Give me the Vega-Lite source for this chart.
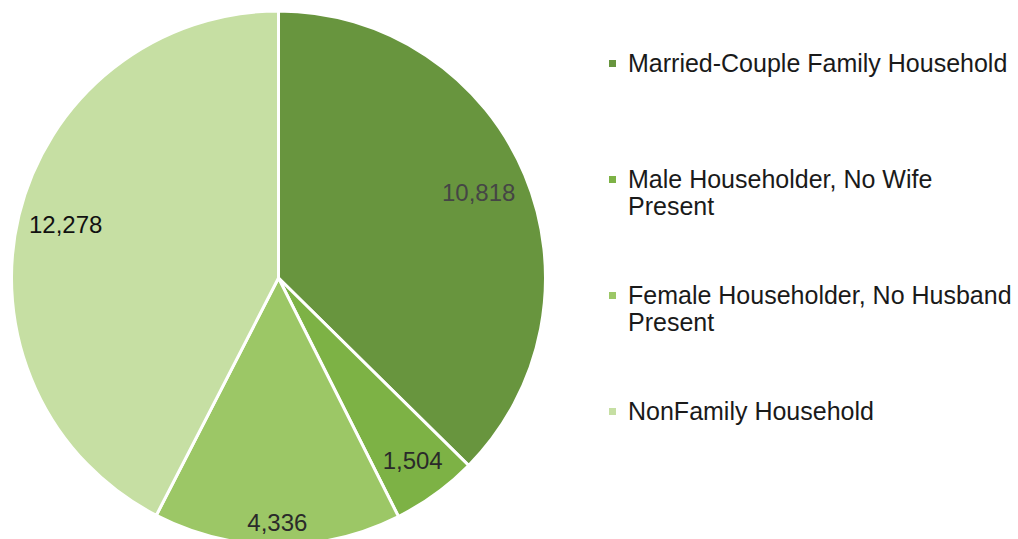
{
  "$schema": "https://vega.github.io/schema/vega-lite/v6.json",
  "width": 533,
  "height": 522,
  "autosize": {"type": "none"},
  "padding": {"left": 12, "top": 17, "right": 473, "bottom": 0},
  "background": "white",
  "config": {"view": {"stroke": null}, "font": "Liberation Sans"},
  "data": {
    "values": [
      {"category": "Married-Couple Family Household", "households": 10818, "order": 1},
      {"category": "Male Householder, No Wife Present", "households": 1504, "order": 2},
      {"category": "Female Householder, No Husband Present", "households": 4336, "order": 3},
      {"category": "NonFamily Household", "households": 12278, "order": 4}
    ]
  },
  "encoding": {
    "theta": {"field": "households", "type": "quantitative", "stack": true},
    "order": {"field": "order", "type": "quantitative"}
  },
  "layer": [
    {
      "mark": {"type": "arc", "outerRadius": 267, "stroke": "white", "strokeWidth": 3},
      "encoding": {
        "color": {
          "field": "category",
          "type": "nominal",
          "sort": null,
          "scale": {
            "domain": ["Married-Couple Family Household", "Male Householder, No Wife Present", "Female Householder, No Husband Present", "NonFamily Household"],
            "range": ["#68953e", "#7db245", "#9cc766", "#c6dfa3"]
          },
          "legend": {
            "title": null,
            "orient": "none",
            "legendX": 588,
            "legendY": 34,
            "symbolType": "square",
            "symbolSize": 49,
            "symbolStrokeWidth": 0,
            "labelFont": "Liberation Sans",
            "labelFontSize": 25,
            "labelColor": "#1a1a1a",
            "labelLimit": 500,
            "labelOffset": 3,
            "labelLineHeight": 27,
            "gridAlign": "all",
            "rowPadding": 63,
            "labelExpr": "datum.label == 'Male Householder, No Wife Present' ? ['Male Householder, No Wife', 'Present'] : datum.label == 'Female Householder, No Husband Present' ? ['Female Householder, No Husband', 'Present'] : datum.label"
          }
        }
      }
    },
    {
      "mark": {"type": "text", "radius": 217, "fontSize": 24, "color": "#454545"},
      "encoding": {"text": {"condition": {"test": "datum.order == 1", "field": "households", "type": "quantitative", "format": ","}, "value": ""}}
    },
    {
      "mark": {"type": "text", "radius": 228, "fontSize": 24, "color": "#2a2a2a"},
      "encoding": {"text": {"condition": {"test": "datum.order == 2", "field": "households", "type": "quantitative", "format": ","}, "value": ""}}
    },
    {
      "mark": {"type": "text", "radius": 246, "fontSize": 24, "color": "#2a2a2a"},
      "encoding": {"text": {"condition": {"test": "datum.order == 3", "field": "households", "type": "quantitative", "format": ","}, "value": ""}}
    },
    {
      "mark": {"type": "text", "radius": 219, "fontSize": 24, "color": "#111111"},
      "encoding": {"text": {"condition": {"test": "datum.order == 4", "field": "households", "type": "quantitative", "format": ","}, "value": ""}}
    }
  ]
}
